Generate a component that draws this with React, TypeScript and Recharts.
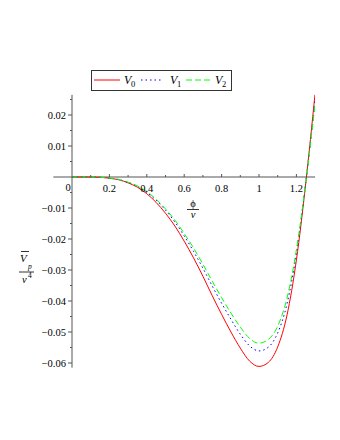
import { LineChart, Line, XAxis, YAxis, ReferenceLine, ReferenceDot } from "recharts";

// values
const PHI = [0, 0.05, 0.1, 0.15, 0.2, 0.25, 0.3, 0.35, 0.4, 0.45, 0.5, 0.55, 0.6, 0.65, 0.7, 0.75, 0.8, 0.85, 0.9, 0.95, 1.0, 1.05, 1.1, 1.15, 1.2, 1.25, 1.3];
const V0 = [0, 0, -0.00003, -0.0001, -0.0004, -0.0009, -0.0019, -0.0033, -0.0054, -0.0082, -0.0117, -0.0158, -0.0207, -0.0261, -0.032, -0.0383, -0.0443, -0.05, -0.0552, -0.0594, -0.0611, -0.0598, -0.0548, -0.0445, -0.0268, -0.002, 0.027];
const V1 = [0, 0, -0.00003, -0.00009, -0.00037, -0.00083, -0.00174, -0.003, -0.005, -0.0075, -0.0107, -0.0145, -0.019, -0.024, -0.0294, -0.0352, -0.0407, -0.0459, -0.0507, -0.0545, -0.0561, -0.0549, -0.0503, -0.0409, -0.0246, -0.0018, 0.0248];
const V2 = [0, 0, -0.00003, -0.00009, -0.00035, -0.00079, -0.00167, -0.0029, -0.0047, -0.0072, -0.0103, -0.0139, -0.0182, -0.0229, -0.0281, -0.0336, -0.0389, -0.0439, -0.0484, -0.0521, -0.0536, -0.0524, -0.0481, -0.039, -0.0235, -0.0018, 0.0237];

const X_MAJOR = [0.2, 0.4, 0.6, 0.8, 1, 1.2];
const X_LABELS = ["0.2", "0.4", "0.6", "0.8", "1", "1.2"];
const X_MINOR = [0.1, 0.3, 0.5, 0.7, 0.9, 1.1];
const Y_MAJOR = [0.02, 0.01, -0.01, -0.02, -0.03, -0.04, -0.05, -0.06];
const Y_LABELS = ["0.02", "0.01", "\u22120.01", "\u22120.02", "\u22120.03", "\u22120.04", "\u22120.05", "\u22120.06"];
const Y_MINOR = [0.025, 0.015, 0.005, -0.005, -0.015, -0.025, -0.035, -0.045, -0.055];

const data = PHI.map((phi, i) => ({ phi, v0: V0[i], v1: V1[i], v2: V2[i] }));

const AXIS = "#555";
const FONT = "'Liberation Serif', 'Times New Roman', serif";
const txt = { fontFamily: FONT };

const xTick = (label: string | null, len: number) => (p: any) => (
  <g>
    <line x1={p.cx} x2={p.cx} y1={p.cy} y2={p.cy - len} stroke={AXIS} strokeWidth={1} />
    {label && (
      <text x={p.cx} y={p.cy + 15} textAnchor="middle" style={txt} fontSize={10.5} fill="#000">
        {label}
      </text>
    )}
  </g>
);

const yTick = (label: string | null, len: number) => (p: any) => (
  <g>
    <line x1={p.cx - len} x2={p.cx} y1={p.cy} y2={p.cy} stroke={AXIS} strokeWidth={1} />
    {label && (
      <text x={p.cx - 6} y={p.cy + 3.5} textAnchor="end" style={txt} fontSize={10.5} fill="#000">
        {label}
      </text>
    )}
  </g>
);

const originLabel = (p: any) => (
  <text x={p.cx - 4} y={p.cy + 14} textAnchor="middle" style={txt} fontSize={10.5} fill="#000">
    0
  </text>
);

function Overlay() {
  const it = { style: { fontFamily: FONT, fontStyle: "italic" as const }, fill: "#000" };
  const up = { style: txt, fill: "#000" };
  return (
    <svg width={340} height={440} style={{ position: "absolute", left: 0, top: 0, pointerEvents: "none" }}>
      {/* legend */}
      <rect x={91.5} y={70.5} width={140} height={20} fill="#fff" stroke="#333" strokeWidth={1} />
      <line x1={94} x2={120} y1={80} y2={80} stroke="#ff0000" strokeWidth={1} />
      <text x={124} y={84} fontSize={12} {...it}>V</text>
      <text x={131} y={87} fontSize={8.5} {...up}>0</text>
      <line x1={141} x2={163} y1={80} y2={80} stroke="#0000ff" strokeWidth={1} strokeDasharray="1.5 3" />
      <text x={170} y={84} fontSize={12} {...it}>V</text>
      <text x={177} y={87} fontSize={8.5} {...up}>1</text>
      <line x1={186} x2={212} y1={80} y2={80} stroke="#00ff00" strokeWidth={1} strokeDasharray="6 3" />
      <text x={215} y={84} fontSize={12} {...it}>V</text>
      <text x={222} y={87} fontSize={8.5} {...up}>2</text>

      {/* x label */}
      <text x={193} y={207} textAnchor="middle" fontSize={10.5} {...up}>ϕ</text>
      <line x1={187} x2={199} y1={209.5} y2={209.5} stroke="#000" strokeWidth={0.8} />
      <text x={193} y={218} textAnchor="middle" fontSize={10.5} {...it}>v</text>

      {/* y label */}
      <line x1={21} x2={29} y1={251.5} y2={251.5} stroke="#000" strokeWidth={0.8} />
      <text x={20} y={262} fontSize={11} {...it}>V</text>
      <text x={28} y={269} fontSize={7.5} {...it}>p</text>
      <line x1={19} x2={34} y1={272} y2={272} stroke="#000" strokeWidth={0.8} />
      <text x={22} y={283} fontSize={10.5} {...it}>v</text>
      <text x={28} y={278} fontSize={7.5} {...up}>4</text>
    </svg>
  );
}

export default function App() {
  return (
    <div style={{ position: "absolute", left: 0, top: 0, width: 340, height: 440, background: "#fff" }}>
      <LineChart width={340} height={440} data={data} margin={{ top: 94.85, right: 24.9, bottom: 72.35, left: 53.3 }}>
        <XAxis type="number" dataKey="phi" domain={[-0.1, 1.3]} hide allowDataOverflow />
        <YAxis type="number" domain={[-0.0615, 0.0265]} hide allowDataOverflow />
        <ReferenceLine y={0} stroke={AXIS} strokeWidth={1} />
        <ReferenceLine x={0} stroke={AXIS} strokeWidth={1} />
        {X_MAJOR.map((v, i) => (
          <ReferenceDot key={"xm" + v} x={v} y={0} r={0} shape={xTick(X_LABELS[i], 3)} />
        ))}
        {X_MINOR.map((v) => (
          <ReferenceDot key={"xn" + v} x={v} y={0} r={0} shape={xTick(null, 2)} />
        ))}
        {Y_MAJOR.map((v, i) => (
          <ReferenceDot key={"ym" + v} x={0} y={v} r={0} shape={yTick(Y_LABELS[i], 4)} />
        ))}
        {Y_MINOR.map((v) => (
          <ReferenceDot key={"yn" + v} x={0} y={v} r={0} shape={yTick(null, 2)} />
        ))}
        <ReferenceDot x={0} y={0} r={0} shape={originLabel} />
        <Line type="monotone" dataKey="v0" stroke="#ff0000" strokeWidth={1} dot={false} isAnimationActive={false} />
        <Line type="monotone" dataKey="v1" stroke="#0000ff" strokeWidth={1} strokeDasharray="1.5 3" dot={false} isAnimationActive={false} />
        <Line type="monotone" dataKey="v2" stroke="#00ff00" strokeWidth={1} strokeDasharray="6 3" dot={false} isAnimationActive={false} />
      </LineChart>
      <Overlay />
    </div>
  );
}
